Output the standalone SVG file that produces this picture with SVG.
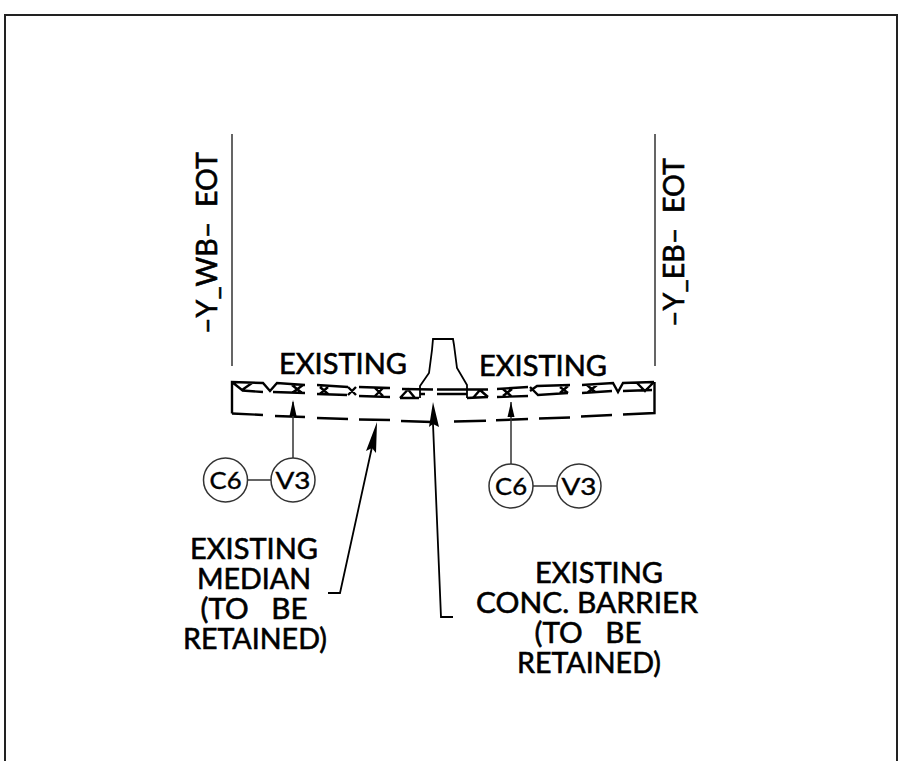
<svg xmlns="http://www.w3.org/2000/svg" width="915" height="761" viewBox="0 0 915 761">
<style>
.t{font-family:"Lato","Liberation Sans",sans-serif;font-size:29px;fill:#000;stroke:#000;stroke-width:.6;text-anchor:middle}
.s{text-anchor:start}
.c{font-family:"Lato","Liberation Sans",sans-serif;font-size:24px;fill:#000;stroke:#000;stroke-width:.4;text-anchor:middle}
.l{fill:none;stroke:#000;stroke-width:1.8}
.h{fill:none;stroke:#000;stroke-width:2.4}
.n{fill:none;stroke:#333;stroke-width:1.5}
.a{fill:#000;stroke:none}
</style>
<rect width="915" height="761" fill="#fff"/>
<path id="frame" d="M5 761V15H897V761" fill="none" stroke="#222" stroke-width="2"/>
<g id="section">
<path class="n" d="M232 134V366M655 134V366"/>
<path class="h" d="M232 413.500V382L263 383L270 391L277 383L305 385M232 382L242 390L252 383M242 390.500L263 392M273 392L305 393M292 385L302 393M303 385L292 393"/>
<path class="h" d="M317 385L348 387M317 394L347 395M320 387L328 394M328 387L320 394M348 387L356 395M348 395L356 387M359 387L390 388M359 396L390 397M375 388L383 396M383 388L375 396"/>
<path class="h" d="M402 389L433 389.500M400 398H419M400 398L408 389.500L415 398"/>
<path class="l" d="M420 398V386L429 373L432 350L433 339H453L454 345L457 368L467 385V398"/>
<path class="h" d="M420 394H425M437 389.500H488M437 394H467M467 398L488 397M473 398L480 390L488 397"/>
<path class="h" d="M497 389L528 387M497 397L528 396M503 389L511 396M512 389L503 396"/>
<path class="h" d="M530 391L537 386L570 385M530 387L538 395L568 393M560 387L568 393M568 386L560 393"/>
<path class="h" d="M582 385L613 383L618 392L623 383L654 382M582 393L612 391M587 385L595 392M597 385L587 393M623 391L652 390M637 383L645 391L654 382"/>
<path class="h" d="M654.500 382V413L623 414.500M612 415L581 416.500M570 417.500L539 418.500M528 419L496 420.300M486 420.700L454 421.500M432 422L401 421M390 420L359 419.500M348 419L317 418M305 417L275 416M263 415L232 413.500"/>
</g>
<g id="connectors">
<path class="n" d="M293 402V458M511 402V464M247 480H271M533 486H557"/>
<path class="l" d="M372 447L340 593H328"/>
<path class="l" d="M433 424L441 617H453"/>
<path class="a" d="M293 400L296.500 416H289.500Z"/>
<path class="a" d="M511 402L514.500 417H507.500Z"/>
<path class="a" d="M377 422L376 453L372 448L366 451Z"/>
<path class="a" d="M433 402L439 427L433 424L429 427Z"/>
</g>
<g id="c6a"><circle class="n" cx="225.500" cy="480" r="22"/><text class="c" x="225.500" y="489" textLength="32" lengthAdjust="spacingAndGlyphs">C6</text></g>
<g id="v3a"><circle class="n" cx="293" cy="480" r="22"/><text class="c" x="293" y="489" textLength="35" lengthAdjust="spacingAndGlyphs">V3</text></g>
<g id="c6b"><circle class="n" cx="511" cy="486" r="22"/><text class="c" x="511" y="495" textLength="32" lengthAdjust="spacingAndGlyphs">C6</text></g>
<g id="v3b"><circle class="n" cx="579" cy="486" r="22"/><text class="c" x="579" y="495" textLength="35" lengthAdjust="spacingAndGlyphs">V3</text></g>
<g id="labels">
<text class="t" x="343" y="374" textLength="128" lengthAdjust="spacingAndGlyphs">EXISTING</text>
<text class="t" x="543" y="376" textLength="128" lengthAdjust="spacingAndGlyphs">EXISTING</text>
<text class="t" xml:space="preserve"><tspan x="254" y="559" textLength="128" lengthAdjust="spacingAndGlyphs">EXISTING</tspan><tspan x="254" y="589" textLength="114" lengthAdjust="spacingAndGlyphs">MEDIAN</tspan><tspan x="254" y="619" textLength="107" lengthAdjust="spacingAndGlyphs">(TO   BE</tspan><tspan x="255" y="649" textLength="144" lengthAdjust="spacingAndGlyphs">RETAINED)</tspan></text>
<text class="t" xml:space="preserve"><tspan x="599" y="583" textLength="128" lengthAdjust="spacingAndGlyphs">EXISTING</tspan><tspan x="587" y="613" textLength="222" lengthAdjust="spacingAndGlyphs">CONC. BARRIER</tspan><tspan x="588" y="643" textLength="107" lengthAdjust="spacingAndGlyphs">(TO   BE</tspan><tspan x="589" y="673" textLength="144" lengthAdjust="spacingAndGlyphs">RETAINED)</tspan></text>
<text class="t s" transform="translate(216.500 334) rotate(-90)" xml:space="preserve" textLength="182" lengthAdjust="spacingAndGlyphs">–Y_WB–  EOT</text>
<text class="t s" transform="translate(683.500 327) rotate(-90)" xml:space="preserve" textLength="169" lengthAdjust="spacingAndGlyphs">–Y_EB–  EOT</text>
</g>
</svg>
